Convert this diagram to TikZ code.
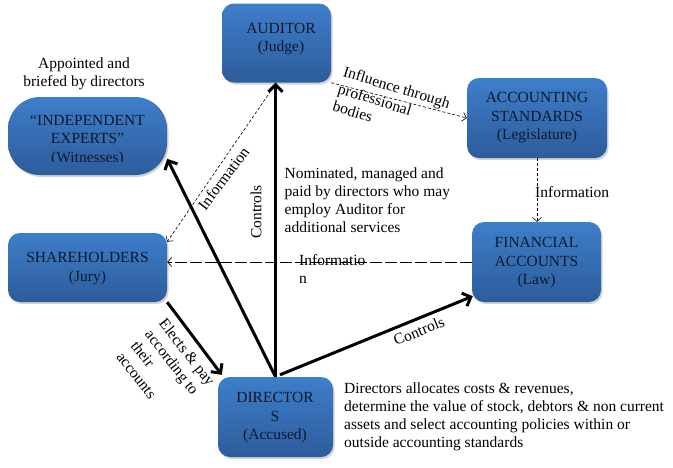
\documentclass[tikz,border=0pt]{standalone}
\usepackage{fontspec}
\setmainfont{Liberation Serif}
\usetikzlibrary{arrows.meta,shadows,calc}
\definecolor{boxtop}{RGB}{62,126,202}
\definecolor{boxbot}{RGB}{45,92,155}
\definecolor{boxtxt}{RGB}{15,25,45}
\tikzset{
  box/.style={rounded corners=12pt, top color=boxtop, bottom color=boxbot, draw=none,
    drop shadow={shadow xshift=1.5pt, shadow yshift=-2pt, opacity=0.35}},
  btxt/.style={inner sep=0pt, align=center, text=boxtxt, font=\fontsize{15.5}{18.5}\selectfont},
  ltxt/.style={inner sep=0pt, font=\fontsize{15.5}{18}\selectfont},
  thick arrow/.style={line width=3pt, -{Straight Barb[length=7pt,width=14pt]}},
  thin dash/.style={line width=0.6pt, dash pattern=on 3pt off 2pt, -{Straight Barb[length=4pt,width=9pt]}},
  long dash/.style={line width=0.7pt, dash pattern=on 12pt off 3pt, -{Straight Barb[length=4pt,width=9pt]}}
}
\begin{document}
\begin{tikzpicture}[x=1pt,y=-1pt]
\useasboundingbox (0,0) rectangle (673,467);
% boxes
\node[box, minimum width=109pt, minimum height=79pt] (aud) at (276.5,43) {};
\node[box, rounded corners=32pt, minimum width=159pt, minimum height=78pt] (exp) at (87.5,136) {};
\node[box, minimum width=159pt, minimum height=69pt] (sh) at (87.5,267.5) {};
\node[box, minimum width=115pt, minimum height=80pt] (dir) at (275.5,417) {};
\node[box, minimum width=140pt, minimum height=80pt] (acc) at (537,118) {};
\node[box, minimum width=129pt, minimum height=80pt] (fin) at (536.5,262) {};
% box texts
\node[btxt] (audt) at (281,39) {AUDITOR\\(Judge)};
\begin{scope}
\clip (0,0) rectangle (673,161);
\node[btxt] (expt) at (87.5,140) {``INDEPENDENT\\EXPERTS''\\(Witnesses)};
\end{scope}
\node[btxt] (sht) at (87.5,268.5) {SHAREHOLDERS\\(Jury)};
\node[btxt] (dirt) at (275,418) {DIRECTOR\\S\\(Accused)};
\node[btxt] (acct) at (537,118) {ACCOUNTING\\STANDARDS\\(Legislature)};
\node[btxt] (fint) at (536.5,263) {FINANCIAL\\ACCOUNTS\\(Law)};
% connectors
\draw[thick arrow] (dir.north) -- (dir.north |- aud.south);
\draw[thick arrow] (dir.north) -- (exp.-16.6);
\draw[thick arrow] (sh.south east) -- ($(dir.north west)+(4,-2)$);
\draw[thick arrow] ($(dir.north)+(4.5,-2)$) -- ($(fin.south west)+(1,-6)$);
\draw[thin dash] (aud.south) -- ($(sh.north east)+(0,9)$);
\draw[thin dash] (aud.south east) -- (acc.west);
\draw[thin dash] (acc.south) -- (acc.south |- fin.north);
\draw[long dash] (fin.west) -- (fin.west -| sh.east);
% labels
\node[ltxt, align=center] (appt) at (84,74) {Appointed and\\briefed by directors};
\node[ltxt, rotate=90] (ctl1) at (256,212) {Controls};
\node[ltxt, rotate=53] (inf1) at (223.5,178.5) {Information};
\node[ltxt, rotate=22] (ctl2) at (419,331) {Controls};
\node[ltxt, rotate=-52, align=left, anchor=north west] (elect) at (167,317) {Elects \& pay\\according to\\their\\accounts};
\node[ltxt, rotate=-17, align=left, anchor=north west] (infl) at (345.5,65.5) {Influence through\\professional\\bodies};
\node[ltxt, anchor=west] (inf2) at (535,192) {Information};
\node[ltxt, anchor=west, align=left] (inf3) at (299,269.5) {Informatio\\n};
\node[ltxt, anchor=west, align=left] (nom) at (284.5,200) {Nominated, managed and\\paid by directors who may\\employ Auditor for\\additional services};
\node[ltxt, anchor=west, align=left] (dtxt) at (344,416.5) {Directors allocates costs \& revenues,\\determine the value of stock, debtors \& non current\\assets and select accounting policies within or\\outside accounting standards};
\end{tikzpicture}
\end{document}
